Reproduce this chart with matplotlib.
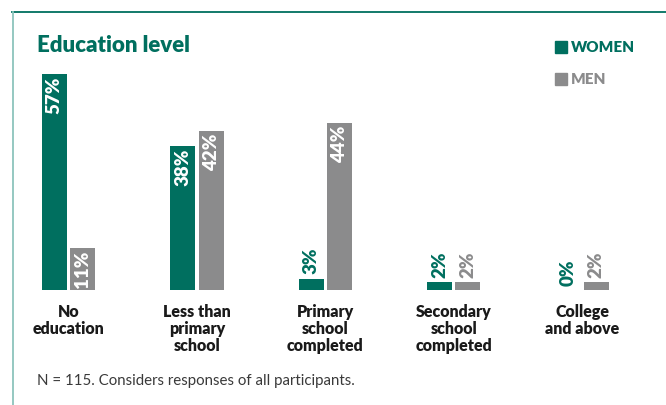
import matplotlib
matplotlib.use("Agg")
import matplotlib.pyplot as plt
from matplotlib.lines import Line2D
from matplotlib.patches import Rectangle
import numpy as np

# data
categories = ["No\neducation", "Less than\nprimary\nschool", "Primary\nschool\ncompleted",
              "Secondary\nschool\ncompleted", "College\nand above"]
women = [57, 38, 3, 2, 0]
men = [11, 42, 44, 2, 2]

GREEN = "#006f5f"
GREY = "#8b8b8c"
W, H = 666, 405

plt.rcParams["font.family"] = ["Lato", "DejaVu Sans"]

fig = plt.figure(figsize=(W / 100, H / 100), dpi=100)


def fx(px):
    return px / W


def fy(py):
    return 1 - py / H


# plot area: baseline at y=290px, ~3.79 px per percent, groups every ~128px
ax = fig.add_axes([fx(4.3), fy(290), fx(642), 60 * 3.79 / H])
ax.set_xlim(-0.5, 4.5)
ax.set_ylim(0, 60)
ax.axis("off")

x = np.arange(len(categories))
bw = 25 / 128.4
off = 14.2 / 128.4
ax.bar(x - off, women, width=bw, color=GREEN)
ax.bar(x + off, men, width=bw, color=GREY)

for xs, vals, col in ((x - off, women, GREEN), (x + off, men, GREY)):
    for xi, v in zip(xs, vals):
        if v >= 10:
            ax.annotate(f"{v}%", (xi, v), xytext=(0, -2), textcoords="offset points",
                        rotation=90, ha="center", va="top", color="white",
                        fontsize=13.5, fontweight="heavy")
        else:
            ax.annotate(f"{v}%", (xi, v), xytext=(0, 3), textcoords="offset points",
                        rotation=90, ha="center", va="bottom", color=col,
                        fontsize=13.5, fontweight="heavy")

for xi, lab in zip(x, categories):
    ax.annotate(lab, (xi, 0), xytext=(0, -10), textcoords="offset points",
                ha="center", va="top", fontsize=11.5, fontweight="heavy",
                color="#1a1a1a", linespacing=1.08, annotation_clip=False)

# title, legend, footnote
fig.text(fx(37), fy(46), "Education level", color=GREEN, fontsize=16,
         fontweight="heavy", va="center", ha="left")

for yy, lab, col in ((47, "WOMEN", GREEN), (79, "MEN", GREY)):
    fig.patches.append(Rectangle((fx(555), fy(yy + 6)), fx(12), 12 / H,
                                 transform=fig.transFigure, color=col))
    fig.text(fx(571), fy(yy), lab, color=col, fontsize=11, fontweight="heavy",
             va="center", ha="left")

fig.text(fx(37), fy(381), "N = 115. Considers responses of all participants.",
         color="#3a3a3a", fontsize=10.8, va="center", ha="left")

# frame lines
fig.add_artist(Line2D([fx(12), 1], [fy(12), fy(12)], color=GREEN, lw=1.3,
                      transform=fig.transFigure))
fig.add_artist(Line2D([fx(12.5), fx(12.5)], [fy(12), 0], color="#8cc4bc", lw=1.3,
                      transform=fig.transFigure))

fig.savefig("out.png", dpi=100)
